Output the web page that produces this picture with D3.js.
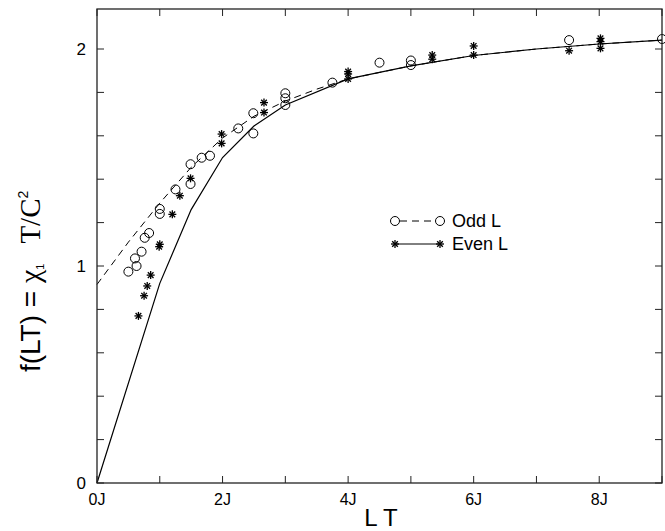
<!DOCTYPE html>
<html><head><meta charset="utf-8">
<script src="https://cdn.jsdelivr.net/npm/d3@7"></script>
<style>body{margin:0;background:#fff}svg{display:block}</style>
</head><body>
<svg id="c" width="665" height="531"></svg>
<script>
// Data
const oddX = [0.5,0.605,0.63,0.71,0.76,0.83,1.0,1.0,1.25,1.49,1.49,1.667,1.8,2.25,2.49,2.49,3.0,3.0,3.0,3.75,4.5,5.0,5.0,7.52,9.0];
const oddY = [0.974,1.035,1.0,1.066,1.13,1.152,1.263,1.24,1.353,1.469,1.378,1.499,1.508,1.634,1.704,1.611,1.796,1.773,1.742,1.845,1.937,1.947,1.926,2.041,2.046];
const evenX = [0.66,0.75,0.8,0.855,0.99,1.0,1.2,1.32,1.49,1.985,1.985,2.66,2.66,4.0,4.0,4.0,5.34,5.34,6.0,6.0,7.52,8.02,8.02,8.02];
const evenY = [0.77,0.863,0.908,0.958,1.089,1.10,1.238,1.324,1.404,1.608,1.565,1.753,1.707,1.896,1.885,1.862,1.972,1.953,2.014,1.972,1.992,2.049,2.034,2.003];
const oddLineX = [0,0.5,1,1.5,2,2.5,3,3.5,4,5,6,7,8,9];
const oddLineY = [0.915,1.11,1.29,1.455,1.59,1.69,1.76,1.815,1.862,1.922,1.97,2.0,2.023,2.041];
const evenLineX = [0,1,1.5,2,2.5,3,4,5,6,7,8,9];
const evenLineY = [0,0.92,1.26,1.50,1.645,1.742,1.862,1.922,1.97,2.0,2.023,2.041];
const xTicks = [0,2,4,6,8];
const xTickLabels = ["0J","2J","4J","6J","8J"];
const yTicks = [0,1,2];
const yTickLabels = ["0","1","2"];
const legendLabels = ["Odd L","Even L"];

const svg = d3.select("#c");
const L=97, R=662, T=9, B=483;
const x = d3.scaleLinear().domain([0,9]).range([L,R]);
const y = d3.scaleLinear().domain([0,2]).range([B,49]);
const ink = "#000";
const axisCol = "#222";
const sans = "Liberation Sans, Arial, sans-serif";
const serif = "Liberation Serif, Times New Roman, serif";

// lines
const line = d3.line().x(d=>x(d[0])).y(d=>y(d[1]));
svg.append("path").datum(oddLineX.map((v,i)=>[v,oddLineY[i]]))
  .attr("d",line).attr("fill","none").attr("stroke",ink).attr("stroke-width",1)
  .attr("stroke-dasharray","7,5");
svg.append("path").datum(evenLineX.map((v,i)=>[v,evenLineY[i]]))
  .attr("d",line).attr("fill","none").attr("stroke",ink).attr("stroke-width",1.2);

// markers
function star(g, cx, cy, r){
  const s = g.append("g").attr("transform",`translate(${cx},${cy})`);
  for(let k=0;k<4;k++){
    const a = k*Math.PI/4;
    s.append("line").attr("x1",-r*Math.cos(a)).attr("y1",-r*Math.sin(a))
      .attr("x2",r*Math.cos(a)).attr("y2",r*Math.sin(a))
      .attr("stroke",ink).attr("stroke-width",1.3);
  }
}
const gp = svg.append("g");
oddX.forEach((v,i)=>{
  gp.append("circle").attr("cx",x(v)).attr("cy",y(oddY[i])).attr("r",4.5)
    .attr("fill","none").attr("stroke",ink).attr("stroke-width",1);
});
evenX.forEach((v,i)=>star(gp,x(v),y(evenY[i]),4));

// frame
svg.append("rect").attr("x",L).attr("y",T).attr("width",R-L).attr("height",B-T)
  .attr("fill","none").attr("stroke",axisCol).attr("stroke-width",1.3);

// ticks (inward)
d3.range(0,10,1).forEach(v=>{
  svg.append("line").attr("x1",x(v)).attr("x2",x(v)).attr("y1",B).attr("y2",B-7).attr("stroke",axisCol);
  svg.append("line").attr("x1",x(v)).attr("x2",x(v)).attr("y1",T).attr("y2",T+7).attr("stroke",axisCol);
});
d3.range(0,11).map(i=>i*0.2).forEach(v=>{
  svg.append("line").attr("y1",y(v)).attr("y2",y(v)).attr("x1",L).attr("x2",L+7).attr("stroke",axisCol);
  svg.append("line").attr("y1",y(v)).attr("y2",y(v)).attr("x1",R).attr("x2",R-7).attr("stroke",axisCol);
});
xTicks.forEach((v,i)=>{
  svg.append("text").attr("x",x(v)).attr("y",B+22).attr("text-anchor","middle")
    .attr("font-family",sans).attr("font-size",16).text(xTickLabels[i]);
});
yTicks.forEach((v,i)=>{
  svg.append("text").attr("x",L-11).attr("y",y(v)+6).attr("text-anchor","end")
    .attr("font-family",sans).attr("font-size",17).text(yTickLabels[i]);
});

// axis titles
svg.append("text").attr("x",381).attr("y",526).attr("text-anchor","middle")
  .attr("font-family",sans).attr("font-size",24).text("L T");
const yt2 = svg.append("text").attr("transform","translate(40,372) rotate(-90)")
  .attr("font-family",sans).attr("font-size",28);
yt2.append("tspan").text("f(LT) = ");
yt2.append("tspan").attr("font-family",serif).attr("font-size",30).text("χ");
yt2.append("tspan").attr("font-size",11).attr("dy",4).text("1");
yt2.append("tspan").attr("font-family",serif).attr("font-size",29).attr("dy",-4).attr("dx",20).text("T/C");
yt2.append("tspan").attr("font-size",14).attr("dy",-12).text("2");

// legend
const lg = svg.append("g");
const ly = [221,244];
lg.append("line").attr("x1",400).attr("x2",435).attr("y1",ly[0]).attr("y2",ly[0])
  .attr("stroke",ink).attr("stroke-dasharray","7,5");
[395,440].forEach(cx=>lg.append("circle").attr("cx",cx).attr("cy",ly[0]).attr("r",4.5).attr("fill","#fff").attr("stroke",ink));
lg.append("line").attr("x1",395).attr("x2",440).attr("y1",ly[1]).attr("y2",ly[1]).attr("stroke",ink);
[395,440].forEach(cx=>star(lg,cx,ly[1],4));
legendLabels.forEach((t,i)=>{
  lg.append("text").attr("x",452).attr("y",ly[i]+6).attr("font-family",sans)
    .attr("font-size",18).text(t);
});
</script>
</body></html>
